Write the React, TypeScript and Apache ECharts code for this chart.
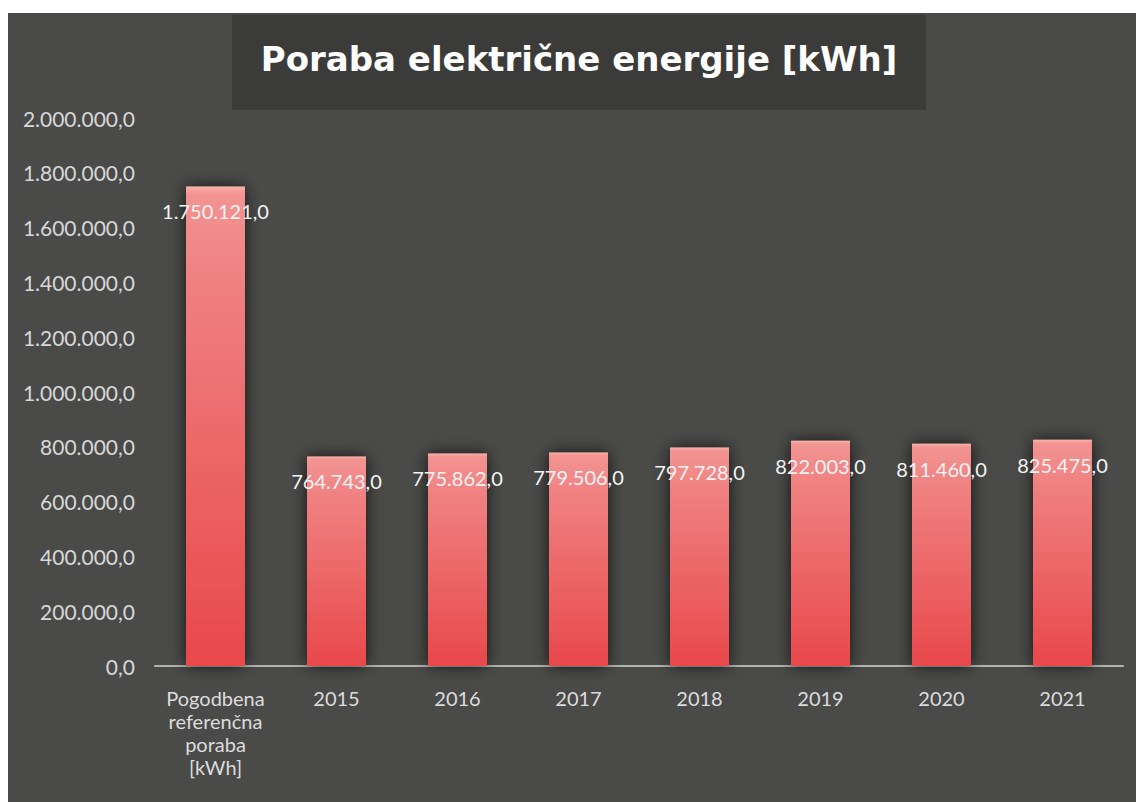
import React, { useEffect, useRef } from "react";
import * as echarts from "echarts";

const categories = ["Pogodbena\nreferenčna\nporaba\n[kWh]", "2015", "2016", "2017", "2018", "2019", "2020", "2021"];
const consumption = [1750121, 764743, 775862, 779506, 797728, 822003, 811460, 825475];
const yTicks = { min: 0, max: 2000000, interval: 200000 };
const titleText = "Poraba električne energije [kWh]";

function fmt(v: number): string {
  const s = Math.round(v).toString().replace(/\B(?=(\d{3})+(?!\d))/g, ".");
  return s + ",0";
}

export default function App() {
  const ref = useRef<HTMLDivElement>(null);
  useEffect(() => {
    if (!ref.current) return;
    const chart = echarts.init(ref.current, null, { renderer: "svg" });
    const font = "Lato, 'Open Sans', sans-serif";
    chart.setOption({
      animation: false,
      backgroundColor: "#ffffff",
      graphic: [
        { type: "rect", z: -10, shape: { x: 8, y: 13, width: 1128, height: 789 }, style: { fill: "#4a4a48" } },
        { type: "rect", z: -9, shape: { x: 232, y: 15, width: 694, height: 95 }, style: { fill: "#3b3b3a" } },
        {
          type: "text",
          x: 579,
          y: 59,
          style: {
            text: titleText,
            fill: "#ffffff",
            font: `bold 34px 'DejaVu Sans', sans-serif`,
            align: "center",
            verticalAlign: "middle",
          },
        },
      ],
      grid: { left: 155, right: 13, top: 118, bottom: 136, containLabel: false },
      xAxis: {
        type: "category",
        data: categories,
        axisLine: { lineStyle: { color: "#b4b4b0", width: 2 } },
        axisTick: { show: false },
        axisLabel: { color: "#dcdcdc", fontSize: 20, fontFamily: font, lineHeight: 23, margin: 20, interval: 0 },
      },
      yAxis: {
        type: "value",
        min: yTicks.min,
        max: yTicks.max,
        interval: yTicks.interval,
        axisLine: { show: false },
        axisTick: { show: false },
        splitLine: { show: false },
        axisLabel: { color: "#d8d8d8", fontSize: 21, fontFamily: font, margin: 20, formatter: (v: number) => fmt(v) },
      },
      series: [
        {
          type: "bar",
          data: consumption,
          barWidth: 59,
          itemStyle: {
            color: new echarts.graphic.LinearGradient(0, 0, 0, 1, [
              { offset: 0, color: "#f7b4aa" },
              { offset: 0.015, color: "#f29492" },
              { offset: 0.2, color: "#f08080" },
              { offset: 1, color: "#e8484b" },
            ]),
            shadowColor: "rgba(0,0,0,0.75)",
            shadowBlur: 16,
          },
          label: {
            show: true,
            position: "insideTop",
            distance: 15,
            color: "#f4f4f4",
            fontSize: 20,
            fontFamily: font,
            formatter: (p: any) => fmt(p.value),
          },
        },
      ],
    });
    return () => chart.dispose();
  }, []);
  return <div ref={ref} style={{ position: "absolute", left: 0, top: 0, width: 1136, height: 802 }} />;
}
